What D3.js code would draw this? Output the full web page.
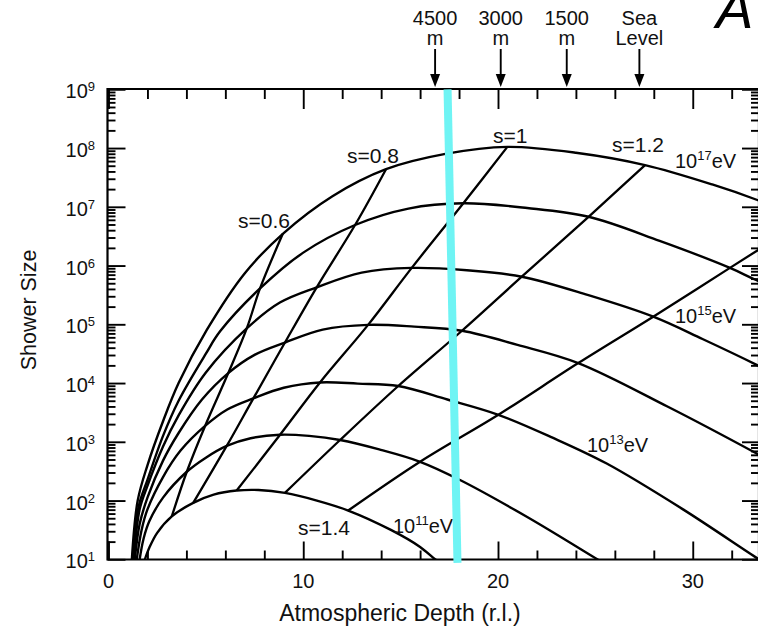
<!DOCTYPE html>
<html><head><meta charset="utf-8">
<script src="https://cdn.jsdelivr.net/npm/d3@7"></script>
<style>
html,body{margin:0;padding:0;background:#fff;}
svg{display:block;font-family:"Liberation Sans",Arial,Helvetica,sans-serif;}
</style></head><body>
<svg id="c" width="758" height="636"></svg>
<script>
// ---------- data (depth in radiation lengths, log10 of shower size) ----------
const energyExp = ["11","12","13","14","15","16","17"];
const curveE11 = [[1.87,1.0],[2.1,1.2],[2.5,1.45],[3.25,1.73],[4.35,1.96],[5.4,2.1],[6.58,2.17],[7.7,2.18],[9.06,2.13],[10.7,2.0],[12.31,1.83],[14.5,1.5],[16.0,1.21],[16.77,1.0],[17.2,0.9]];
const curveE12 = [[1.6,1.0],[1.8,1.35],[2.1,1.65],[2.8,2.05],[4.02,2.49],[5.0,2.73],[6.07,2.93],[7.3,3.06],[8.81,3.12],[10.3,3.1],[11.89,3.03],[13.9,2.87],[16.0,2.66],[18.05,2.35],[21.5,1.72],[25.1,1.0],[25.6,0.9]];
const curveE13 = [[1.45,1.0],[1.7,1.5],[2.0,1.85],[2.8,2.4],[3.7,2.85],[4.96,3.27],[6.1,3.55],[7.44,3.74],[9.0,3.92],[10.86,4.01],[12.8,3.99],[14.88,3.95],[17.4,3.72],[20.02,3.46],[22.8,3.07],[25.58,2.63],[29.5,1.85],[33.4,1.0],[34.0,0.88]];
const curveE14 = [[1.35,1.0],[1.6,1.6],[2.0,2.05],[2.8,2.68],[3.6,3.15],[4.8,3.72],[6.15,4.17],[7.5,4.48],[9.06,4.69],[11.0,4.91],[13.33,4.99],[15.7,4.96],[18.15,4.89],[21.0,4.65],[24.12,4.34],[28.7,3.6],[33.28,2.8],[36.0,2.3]];
const curveE15 = [[1.3,1.0],[1.6,1.85],[2.0,2.25],[2.8,2.92],[3.6,3.45],[5.0,4.18],[7.1,4.93],[8.8,5.37],[10.69,5.63],[13.0,5.88],[15.57,5.96],[18.4,5.92],[21.22,5.81],[24.6,5.5],[27.97,5.13],[30.5,4.75],[33.28,4.31],[36.0,3.85]];
const curveE16 = [[1.25,1.0],[1.55,1.9],[2.0,2.35],[2.8,3.1],[3.6,3.7],[5.0,4.5],[5.73,4.88],[7.78,5.61],[10.0,6.22],[12.66,6.69],[15.4,6.97],[18.22,7.06],[21.5,6.98],[24.65,6.83],[28.3,6.42],[31.91,5.96],[33.28,5.75],[36.0,5.38]];
const curveE17 = [[1.2,1.0],[1.5,2.0],[2.0,2.6],[2.8,3.35],[3.6,4.0],[5.04,4.9],[7.0,5.87],[8.95,6.54],[11.5,7.18],[14.25,7.64],[17.3,7.9],[20.48,8.02],[24.0,7.92],[27.55,7.71],[31.0,7.38],[33.28,7.12],[35.8,6.78],[37.5,6.55]];
const energyCurves = [curveE11, curveE12, curveE13, curveE14, curveE15, curveE16, curveE17];

// age lines (points where they cross each energy curve, 10^17 -> 10^11)
const ageLabels = ["s=0.6","s=0.8","s=1","s=1.2","s=1.4"];
const ageS06 = [[8.95,6.54],[7.78,5.61],[7.1,4.93],[6.15,4.17],[4.96,3.27],[4.02,2.49],[3.25,1.73]];
const ageS08 = [[14.25,7.64],[12.66,6.69],[10.69,5.63],[9.06,4.69],[7.44,3.74],[6.07,2.93],[4.35,1.96]];
const ageS10 = [[20.48,8.02],[18.22,7.06],[15.57,5.96],[13.33,4.99],[10.86,4.01],[8.81,3.12],[6.58,2.17]];
const ageS12 = [[27.55,7.71],[24.65,6.83],[21.22,5.81],[18.15,4.89],[14.88,3.95],[11.89,3.03],[9.06,2.13]];
const ageS14 = [[35.8,6.78],[31.91,5.96],[27.97,5.13],[24.12,4.34],[20.02,3.46],[16.0,2.66],[12.31,1.83]];
const ageLines = [ageS06, ageS08, ageS10, ageS12, ageS14];

// altitude markers on the top axis
const altitudeLine1 = ["4500","3000","1500","Sea"];
const altitudeLine2 = ["m","m","m","Level"];
const altitudeDepth = [16.77, 20.14, 23.53, 27.26];

// cyan marker line: [depth, log10 size] at its two ends
const cyanLine = [[17.41, 9.0],[17.92, 0.94]];

// axis ticks
const xMajorTicks = [0, 10, 20, 30];
const xMinorTicks = [2,4,6,8,12,14,16,18,22,24,26,28,32];
const yDecadeExp = [1,2,3,4,5,6,7,8,9];
const yMinorMult = [2,3,4,5,6,7,8,9];

// ---------- drawing ----------
const svg = d3.select("#c");
const L = 107.5, R = 759, T = 89, B = 559.5;
const x = d3.scaleLinear().domain([0, 30]).range([108.5, 692.75]);
const y = d3.scaleLog().domain([1e1, 1e9]).range([559.3, 89.3]);
const Y = v => y(Math.pow(10, v));

svg.append("rect").attr("width",758).attr("height",636).attr("fill","#fff");
svg.append("defs").append("clipPath").attr("id","clip")
  .append("rect").attr("x",L).attr("y",T).attr("width",R-L).attr("height",B-T);

const line = d3.line().x(d => x(d[0])).y(d => Y(d[1])).curve(d3.curveCatmullRom.alpha(0.5));
const plot = svg.append("g").attr("clip-path","url(#clip)");
plot.selectAll("path.energy").data(energyCurves).join("path")
  .attr("class","energy").attr("d", line)
  .attr("fill","none").attr("stroke","#000").attr("stroke-width",2.4).attr("stroke-linejoin","round");
plot.selectAll("path.age").data(ageLines).join("path")
  .attr("class","age").attr("d", line)
  .attr("fill","none").attr("stroke","#000").attr("stroke-width",2.3);

// axes ticks
const minorY = [];
yDecadeExp.slice(0,-1).forEach(e => yMinorMult.forEach(m => minorY.push(m*Math.pow(10,e))));
const majorY = yDecadeExp.map(e => Math.pow(10,e));
function styleAxis(g){ g.select(".domain").remove(); g.selectAll("line").attr("stroke","#000").attr("stroke-width",1.9); }
svg.append("g").attr("transform",`translate(${L},0)`).call(d3.axisLeft(y).tickValues(minorY).tickSize(-8).tickFormat("")).call(styleAxis);
svg.append("g").attr("transform",`translate(${L},0)`).call(d3.axisLeft(y).tickValues(majorY).tickSize(-18).tickFormat("")).call(styleAxis);
svg.append("g").attr("transform",`translate(${R},0)`).call(d3.axisRight(y).tickValues(minorY).tickSize(-8).tickFormat("")).call(styleAxis);
svg.append("g").attr("transform",`translate(${R},0)`).call(d3.axisRight(y).tickValues(majorY).tickSize(-17).tickFormat("")).call(styleAxis);
svg.append("g").attr("transform",`translate(0,${B})`).call(d3.axisBottom(x).tickValues(xMinorTicks).tickSize(-9).tickFormat("")).call(styleAxis);
svg.append("g").attr("transform",`translate(0,${B})`).call(d3.axisBottom(x).tickValues(xMajorTicks).tickSize(-18).tickFormat("")).call(styleAxis);
svg.append("g").attr("transform",`translate(0,${T})`).call(d3.axisTop(x).tickValues(xMinorTicks).tickSize(-10).tickFormat("")).call(styleAxis);
svg.append("g").attr("transform",`translate(0,${T})`).call(d3.axisTop(x).tickValues(xMajorTicks).tickSize(-20).tickFormat("")).call(styleAxis);

// frame
svg.append("path").attr("d",`M${L},${T}H${R}M${L},${T-1}V${B+1}M${L-1},${B}H${R}M${R},${T}V${B}`)
  .attr("stroke","#000").attr("stroke-width",2.2).attr("fill","none");

const txt = "#111";
// y tick labels
const yl = svg.append("g").attr("fill",txt).attr("font-size",20);
yDecadeExp.forEach(e => {
  const t = yl.append("text").attr("x",95).attr("y",y(Math.pow(10,e))+9).attr("text-anchor","end");
  t.append("tspan").text("10");
  t.append("tspan").attr("dy",-7).attr("font-size",13).text(e);
});
// x tick labels
svg.append("g").attr("fill",txt).attr("font-size",20).selectAll("text").data(xMajorTicks).join("text")
  .attr("x",d => x(d)).attr("y",588).attr("text-anchor","middle").text(d => d);

// axis titles
svg.append("text").attr("x",400).attr("y",621).attr("text-anchor","middle").attr("font-size",23).attr("fill",txt)
  .text("Atmospheric Depth (r.l.)");
svg.append("text").attr("transform","translate(36,310) rotate(-90)").attr("text-anchor","middle").attr("font-size",21.5).attr("fill",txt)
  .text("Shower Size");

// age labels
const agePos = [[238,228],[347,163],[493,143],[612,152],[298,535]];
svg.append("g").attr("fill",txt).attr("font-size",21).selectAll("text").data(ageLabels).join("text")
  .attr("x",(d,i)=>agePos[i][0]).attr("y",(d,i)=>agePos[i][1]).text(d=>d);

// energy labels
const energyLabelPos = {"17":[675,168],"15":[675,323],"13":[587,452],"11":[393,533]};
Object.keys(energyLabelPos).forEach(k => {
  const p = energyLabelPos[k];
  const t = svg.append("text").attr("x",p[0]).attr("y",p[1]).attr("font-size",20).attr("fill",txt);
  t.append("tspan").text("10");
  t.append("tspan").attr("dy",-8).attr("font-size",13).text(energyExp[energyExp.indexOf(k)]);
  t.append("tspan").attr("dy",8).text("eV");
});

// altitude markers
const alt = svg.append("g").attr("fill",txt).attr("font-size",20);
altitudeDepth.forEach((d,i) => {
  const px = x(d);
  alt.append("text").attr("x",px).attr("y",25).attr("text-anchor","middle").text(altitudeLine1[i]);
  alt.append("text").attr("x",px).attr("y",45).attr("text-anchor","middle").text(altitudeLine2[i]);
  svg.append("line").attr("x1",px).attr("x2",px).attr("y1",49).attr("y2",76).attr("stroke","#000").attr("stroke-width",1.9);
  svg.append("path").attr("d",`M${px-5},${74}L${px+5},${74}L${px},${87}Z`).attr("fill","#000");
});

// cyan marker
svg.append("line").attr("x1",x(cyanLine[0][0])).attr("y1",Y(cyanLine[0][1]))
  .attr("x2",x(cyanLine[1][0])).attr("y2",Y(cyanLine[1][1]))
  .attr("stroke","#6ff4f4").attr("stroke-width",8);

// cropped big letter at top right (cut off by the frame, as in the reference)
svg.append("text").attr("x",716).attr("y",28).attr("font-size",56).attr("font-style","italic").attr("fill","#000").text("A");
</script>
</body></html>
